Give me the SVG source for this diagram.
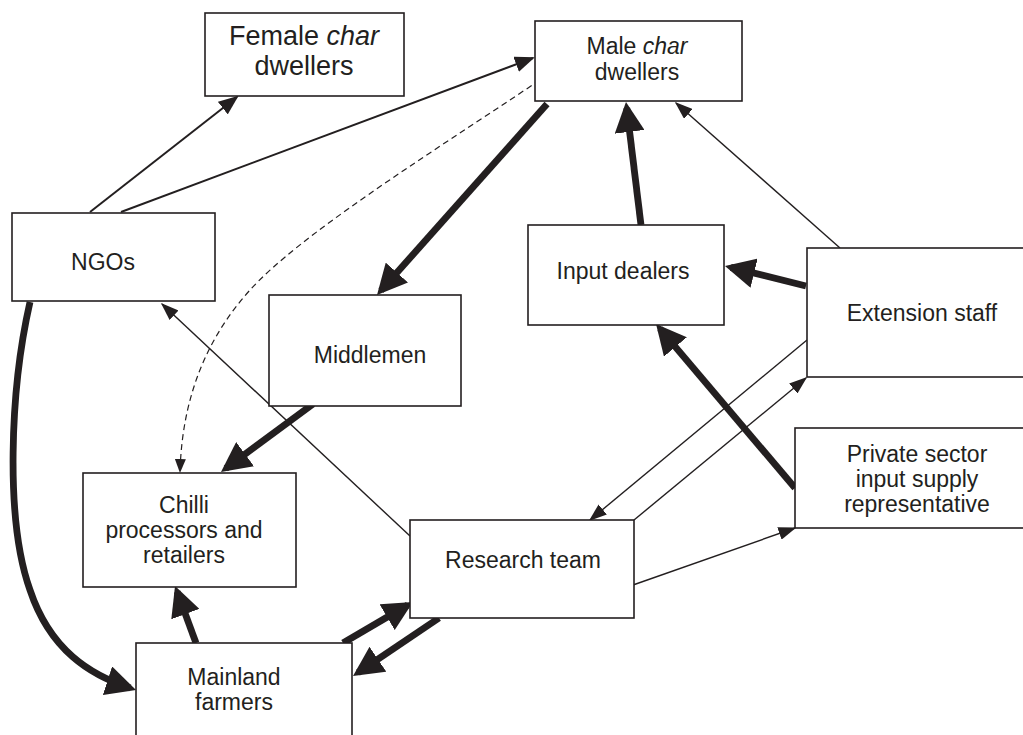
<svg xmlns="http://www.w3.org/2000/svg" width="1023" height="735" viewBox="0 0 1023 735">
<style>
.box{fill:#fff;stroke:#231f20;stroke-width:1.6}
.t{font-family:"Liberation Sans",Arial,sans-serif;font-size:23px;fill:#231f20;text-anchor:middle}
.thick{fill:none;stroke:#231f20;stroke-width:6.8;stroke-linecap:butt}
.med{fill:none;stroke:#231f20;stroke-width:2}
.thin{fill:none;stroke:#231f20;stroke-width:1.4}
.dash{fill:none;stroke:#231f20;stroke-width:1.2;stroke-dasharray:6,4}
</style>
<defs>
<marker id="ab" viewBox="0 0 30 30" markerWidth="30" markerHeight="30" markerUnits="userSpaceOnUse" refX="24" refY="15" orient="auto"><path d="M0,0 L30,15 L0,30 z" fill="#231f20"/></marker>
<marker id="am" viewBox="0 0 20 16" markerWidth="20" markerHeight="16" markerUnits="userSpaceOnUse" refX="18" refY="8" orient="auto"><path d="M0,0 L20,8 L0,16 z" fill="#231f20"/></marker>
<marker id="as" viewBox="0 0 18 13" markerWidth="18" markerHeight="13" markerUnits="userSpaceOnUse" refX="16.5" refY="6.5" orient="auto"><path d="M0,0 L18,6.5 L0,13 z" fill="#231f20"/></marker>
<marker id="ad" viewBox="0 0 14 11" markerWidth="14" markerHeight="11" markerUnits="userSpaceOnUse" refX="13" refY="5.5" orient="auto"><path d="M0,0 L14,5.5 L0,11 z" fill="#231f20"/></marker>
</defs>
<g id="connectors">
<path class="med" d="M90,212 L237,97" marker-end="url(#am)"/>
<path class="med" d="M121,212 L533,58" marker-end="url(#am)"/>
<path class="dash" d="M540,80 C420,160 300,235 250,290 C205,340 182,400 180,472" marker-end="url(#ad)"/>
<path class="thick" d="M547,104 L381,290.5" marker-end="url(#ab)"/>
<path class="thick" d="M641,225 L626.7,108" marker-end="url(#ab)"/>
<path class="thin" d="M840,248 L676,103" marker-end="url(#as)"/>
<path class="thick" d="M806,286 L730.8,267.4" marker-end="url(#ab)"/>
<path class="thick" d="M795,488 L659.9,328.6" marker-end="url(#ab)"/>
<path class="thin" d="M807,340 L590,520" marker-end="url(#as)"/>
<path class="thin" d="M634,520 L806,378" marker-end="url(#as)"/>
<path class="thin" d="M633,585 L795,528" marker-end="url(#as)"/>
<path class="thin" d="M410,536 L162,304" marker-end="url(#as)"/>
<path class="thick" d="M313,404 L225.8,468.4" marker-end="url(#ab)"/>
<path class="thick" d="M196,643 L177.1,591.6" marker-end="url(#ab)"/>
<path class="thick" d="M30,302 C10,390 5,520 30,590 C50,650 90,675 130.3,688.1" marker-end="url(#ab)"/>
<path class="thick" d="M343,643 L407.8,605" marker-end="url(#ab)"/>
<path class="thick" d="M439,618 L358,672.6" marker-end="url(#ab)"/>
</g>
<g id="female"><rect class="box" x="205" y="13" width="199" height="83"/><text class="t" style="font-size:27px" x="304" y="45">Female <tspan font-style="italic">char</tspan></text><text class="t" style="font-size:27px" x="304" y="75">dwellers</text></g>
<g id="male"><rect class="box" x="535" y="21" width="207" height="80"/><text class="t" x="637" y="54">Male <tspan font-style="italic">char</tspan></text><text class="t" x="637" y="80">dwellers</text></g>
<g id="ngos"><rect class="box" x="12" y="213" width="203" height="88"/><text class="t" x="103" y="270">NGOs</text></g>
<g id="middlemen"><rect class="box" x="269" y="295" width="192" height="111"/><text class="t" x="370" y="363">Middlemen</text></g>
<g id="inputdealers"><rect class="box" x="528" y="225" width="196" height="100"/><text class="t" x="623" y="279">Input dealers</text></g>
<g id="extension"><rect class="box" x="807" y="248" width="230" height="129"/><text class="t" x="922" y="321">Extension staff</text></g>
<g id="private"><rect class="box" x="795" y="428" width="240" height="100"/><text class="t" x="917" y="462">Private sector</text><text class="t" x="917" y="487">input supply</text><text class="t" x="917" y="512">representative</text></g>
<g id="chilli"><rect class="box" x="83" y="473" width="213" height="114"/><text class="t" x="184" y="513">Chilli</text><text class="t" x="184" y="538">processors and</text><text class="t" x="184" y="563">retailers</text></g>
<g id="research"><rect class="box" x="410" y="520" width="224" height="98"/><text class="t" x="523" y="568">Research team</text></g>
<g id="mainland"><rect class="box" x="136" y="643" width="216" height="110"/><text class="t" x="234" y="685">Mainland</text><text class="t" x="234" y="710">farmers</text></g>
</svg>
